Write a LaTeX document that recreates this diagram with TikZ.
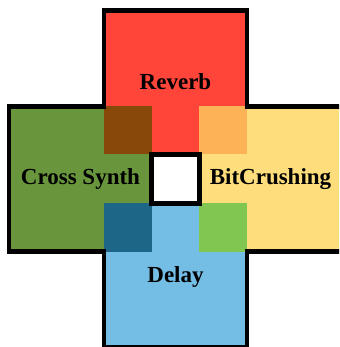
\documentclass[tikz,border=0pt]{standalone}
\usepackage{fontspec}
\setmainfont{Liberation Serif}
\definecolor{cred}{RGB}{255,68,58}
\definecolor{cgreen}{RGB}{105,150,60}
\definecolor{cyellow}{RGB}{254,222,124}
\definecolor{cblue}{RGB}{116,189,228}
\definecolor{cbrown}{RGB}{136,72,10}
\definecolor{corange}{RGB}{253,178,88}
\definecolor{cteal}{RGB}{30,102,136}
\definecolor{clgreen}{RGB}{128,198,80}
\tikzset{
  lbl/.style={font=\fontsize{23}{27}\selectfont\bfseries, text=black, inner sep=0pt},
  outline/.style={draw=black, line width=4.8pt, line join=miter}
}
\begin{document}
\begin{tikzpicture}[x=1pt,y=1pt]
\useasboundingbox (0,0) rectangle (339,347);
\clip (0,0) rectangle (339,347);
\def\cx{175.5}\def\cy{168}
\def\bx{71.5}\def\by{72.7}
\def\ax{23.8}\def\ay{24.5}
\def\L{9}\def\R{342}\def\T{336.5}\def\B{-0.5}
% arms
\fill[cred] (\cx-\bx,\cy+\ay) rectangle (\cx+\bx,\T);
\fill[cgreen] (\L,\cy-\by) rectangle (\cx-\ax,\cy+\by);
\fill[cyellow] (\cx+\ax,\cy-\by) rectangle (\R,\cy+\by);
\fill[cblue] (\cx-\bx,\B) rectangle (\cx+\bx,\cy-\ay);
% overlaps
\fill[cbrown] (\cx-\bx,\cy+\ay) rectangle (\cx-\ax,\cy+\by);
\fill[corange] (\cx+\ax,\cy+\ay) rectangle (\cx+\bx,\cy+\by);
\fill[cteal] (\cx-\bx,\cy-\by) rectangle (\cx-\ax,\cy-\ay);
\fill[clgreen] (\cx+\ax,\cy-\by) rectangle (\cx+\bx,\cy-\ay);
% centre square
\draw[outline, fill=white] (\cx-\ax,\cy-\ay) rectangle (\cx+\ax,\cy+\ay);
% cross outline
\draw[outline] (\L,\cy+\by) -- (\cx-\bx,\cy+\by) -- (\cx-\bx,\T) -- (\cx+\bx,\T)
  -- (\cx+\bx,\cy+\by) -- (\R,\cy+\by) -- (\R,\cy-\by) -- (\cx+\bx,\cy-\by)
  -- (\cx+\bx,\B) -- (\cx-\bx,\B) -- (\cx-\bx,\cy-\by) -- (\L,\cy-\by) -- cycle;
% labels
\node[lbl] (reverb) at (175.5,265) {Reverb};
\node[lbl] (cross) at (80.5,168) {Cross Synth};
\node[lbl] (bit) at (270.5,168) {BitCrushing};
\node[lbl] (delay) at (175.5,70) {Delay};
\end{tikzpicture}
\end{document}
